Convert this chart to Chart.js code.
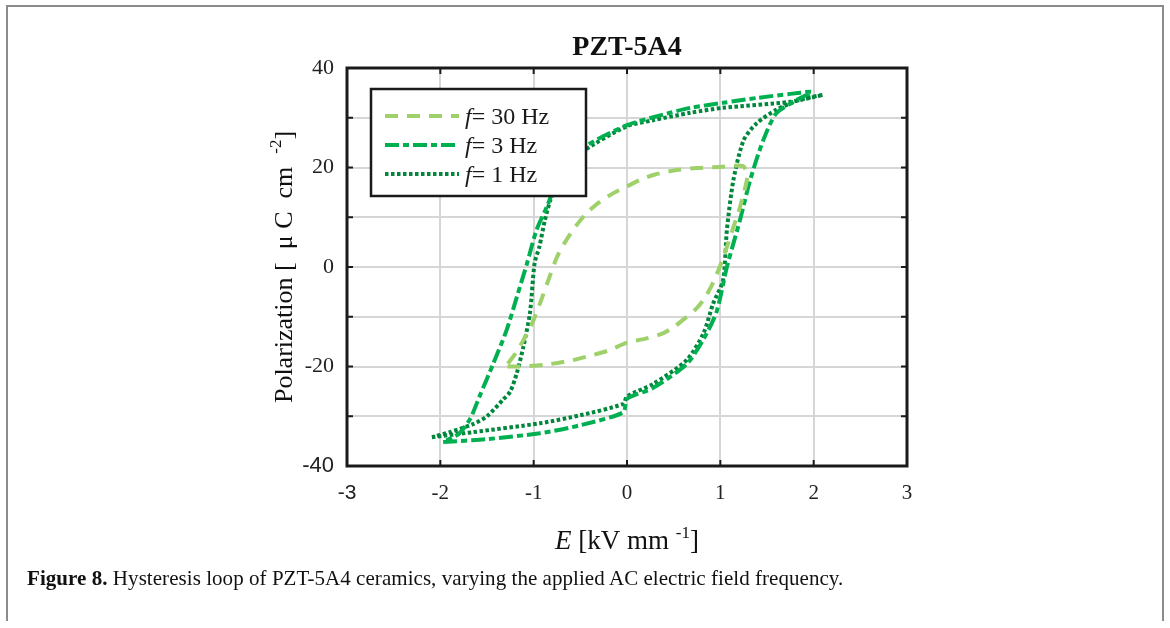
<!DOCTYPE html>
<html>
<head>
<meta charset="utf-8">
<script src="https://cdn.jsdelivr.net/npm/chart.js@4/dist/chart.umd.min.js"></script>
<style>
  html, body { margin: 0; padding: 0; background: #fff; }
  #frame {
    position: absolute; left: 6px; top: 5px; width: 1154px; height: 614px;
    border: 2px solid #8c8c8c; border-bottom: none;
  }
  #wrap { position: absolute; left: 0; top: 0; width: 1170px; height: 628px; }
  #caption {
    position: absolute; left: 27px; top: 566px;
    font-family: 'Liberation Serif', serif; font-size: 21px; color: #111;
    white-space: nowrap; letter-spacing: 0.05px;
  }
  #caption b { font-weight: bold; }
</style>
</head>
<body>
<div id="frame"></div>
<div id="wrap"><canvas id="loopChart" width="1170" height="628"></canvas></div>
<div id="caption"><b>Figure 8.</b> Hysteresis loop of PZT-5A4 ceramics, varying the applied AC electric field frequency.</div>
<script>
// axis ticks
const xTicks = [-3, -2, -1, 0, 1, 2, 3];
const yTicks = [-40, -30, -20, -10, 0, 10, 20, 30, 40];
const yLabels = [-40, -20, 0, 20, 40];

const seriesNames = ['f = 30 Hz', 'f = 3 Hz', 'f = 1 Hz'];

// f = 30 Hz loop (E in kV/mm, P in uC/cm2)
const e30 = [-1.28, -1.15, -0.86, -0.6, -0.43, -0.2, 0.0, 0.2, 0.39, 0.52, 0.64, 0.74, 0.82, 0.9, 0.96, 1.02, 1.07, 1.14, 1.21, 1.26, 1.29, 1.24,
             1.0, 0.75, 0.5, 0.3, 0.15, 0.0, -0.15, -0.3, -0.45, -0.58, -0.67, -0.75, -0.84, -0.93, -1.02, -1.11, -1.2, -1.28];
const p30 = [-20, -20, -19.6, -18.8, -18, -16.8, -15.2, -14.4, -13.3, -11.8, -10, -8.4, -6.6, -4, -1.5, 1.3, 4, 8, 12, 15.5, 18.5, 20.3,
             20.1, 19.9, 19.4, 18.6, 17.6, 16.2, 14.8, 13, 10.5, 7.4, 4.8, 2, -2.5, -7.2, -11.5, -14.7, -17.5, -19.5];

// f = 3 Hz loop
const e3 = [-1.97, -1.5, -0.93, -0.5, -0.04, 0.0, 0.28, 0.64, 0.82, 0.96, 1.07, 1.21, 1.32, 1.46, 1.6, 1.82, 1.98,
            1.75, 1.4, 1.03, 0.68, 0.46, 0.0, -0.47, -0.65, -0.78, -0.85, -0.97, -1.07, -1.18, -1.29, -1.43, -1.58, -1.68, -1.8, -1.97];
const p3 = [-35.2, -34.6, -33.4, -31.8, -29.2, -26.5, -24.3, -19.5, -14.5, -9, 0, 9.4, 17.5, 25.5, 30.9, 33.6, 35.2,
            34.8, 34, 33, 32, 31, 28.5, 24, 20.5, 16, 12.5, 7.4, 0.8, -6, -12.7, -19.3, -26, -30.5, -33.5, -35.2];

// f = 1 Hz loop
const e1 = [-2.09, -1.65, -0.93, -0.5, -0.04, 0.0, 0.28, 0.64, 0.82, 0.92, 1.03, 1.07, 1.14, 1.25, 1.39, 1.6, 1.85, 2.1,
            1.75, 1.03, 0.68, 0.28, 0.0, -0.47, -0.65, -0.76, -0.82, -0.88, -0.94, -0.99, -1.04, -1.11, -1.18, -1.25, -1.33, -1.5, -1.65, -1.9, -2.09];
const p1 = [-34.2, -33.2, -31.4, -29.8, -27.5, -26, -23.5, -18.7, -13.3, -7.5, -2.6, 7.4, 17.5, 25.5, 28.9, 31.6, 33.6, 34.6,
            33.2, 32, 31, 29.5, 28.3, 23.3, 20, 16, 13.5, 9.4, 4, 0.8, -9.3, -16, -21.3, -25, -26.7, -30, -31.6, -33.2, -34.2];

const colors = ['#9fd16b', '#00b050', '#00873c'];
const dashes = [[13, 9], [14, 4, 6, 4], [3.5, 2.5]];

const serif = "'Liberation Serif', 'Times New Roman', serif";
const sans = "'Liberation Sans', Arial, sans-serif";

function toPoints(xs, ys) {
  return xs.map((x, i) => ({ x: x, y: ys[i] }));
}

// draw a string made of pieces: [text, font, raise]
function drawRich(ctx, pieces, x, y, align) {
  let total = 0;
  pieces.forEach(p => { ctx.font = p[1]; total += ctx.measureText(p[0]).width; });
  let cx = align === 'center' ? x - total / 2 : x;
  ctx.textBaseline = 'alphabetic';
  ctx.textAlign = 'left';
  pieces.forEach(p => {
    ctx.font = p[1];
    ctx.fillText(p[0], cx, y - (p[2] || 0));
    cx += ctx.measureText(p[0]).width;
  });
}

const decorations = {
  id: 'decorations',
  afterDatasetsDraw(chart) {
    const ctx = chart.ctx;
    const a = chart.chartArea;
    const xs = chart.scales.x, ys = chart.scales.y;
    ctx.save();

    // inner ticks on all four sides
    ctx.strokeStyle = '#1a1a1a';
    ctx.lineWidth = 2;
    const tl = 6;
    ctx.beginPath();
    xTicks.forEach(v => {
      const px = xs.getPixelForValue(v);
      ctx.moveTo(px, a.bottom); ctx.lineTo(px, a.bottom - tl);
      ctx.moveTo(px, a.top); ctx.lineTo(px, a.top + tl);
    });
    yTicks.forEach(v => {
      const py = ys.getPixelForValue(v);
      ctx.moveTo(a.left, py); ctx.lineTo(a.left + tl, py);
      ctx.moveTo(a.right, py); ctx.lineTo(a.right - tl, py);
    });
    ctx.stroke();

    // box
    ctx.lineWidth = 3;
    ctx.strokeRect(a.left, a.top, a.right - a.left, a.bottom - a.top);

    // legend
    const lx = 371, ly = 89, lw = 215, lh = 107;
    ctx.fillStyle = '#fff';
    ctx.fillRect(lx, ly, lw, lh);
    ctx.lineWidth = 2.5;
    ctx.strokeStyle = '#1a1a1a';
    ctx.strokeRect(lx, ly, lw, lh);
    const rows = [116, 145, 174];
    seriesNames.forEach((name, i) => {
      ctx.beginPath();
      ctx.strokeStyle = colors[i];
      ctx.lineWidth = 4;
      ctx.setLineDash(dashes[i]);
      ctx.moveTo(385, rows[i]);
      ctx.lineTo(459, rows[i]);
      ctx.stroke();
      ctx.setLineDash([]);
      ctx.fillStyle = '#1a1a1a';
      const rest = name.slice(1).replace(' = ', '= ');
      drawRich(ctx, [['f', 'italic 24px ' + serif], [rest, '24px ' + serif]], 465, rows[i] + 8, 'left');
    });

    // title
    ctx.fillStyle = '#111';
    drawRich(ctx, [['PZT-5A4', 'bold 28px ' + serif]], (a.left + a.right) / 2, 55, 'center');

    // x axis title
    drawRich(ctx, [
      ['E', 'italic 27px ' + serif],
      [' [kV mm ', '27px ' + serif],
      ['-1', '17px ' + serif, 11],
      [']', '27px ' + serif]
    ], (a.left + a.right) / 2, 549, 'center');

    // y axis title (rotated)
    ctx.translate(292, (a.top + a.bottom) / 2);
    ctx.rotate(-Math.PI / 2);
    drawRich(ctx, [
      ['Polarization [  \u03bc C  cm  ', '26px ' + serif],
      ['-2', '17px ' + serif, 11],
      [']', '26px ' + serif]
    ], 0, 0, 'center');
    ctx.restore();
  }
};

const ctx = document.getElementById('loopChart').getContext('2d');
new Chart(ctx, {
  type: 'scatter',
  data: {
    datasets: [
      { label: seriesNames[0], data: toPoints(e30, p30), borderColor: colors[0], borderDash: dashes[0] },
      { label: seriesNames[1], data: toPoints(e3, p3), borderColor: colors[1], borderDash: dashes[1] },
      { label: seriesNames[2], data: toPoints(e1, p1), borderColor: colors[2], borderDash: dashes[2] },
    ].map(ds => Object.assign(ds, {
      showLine: true,
      pointRadius: 0,
      borderWidth: 4,
      tension: 0.25,
      fill: false,
    })),
  },
  options: {
    responsive: false,
    animation: false,
    layout: { padding: { left: 0, top: 68, right: 263, bottom: 0 } },
    plugins: {
      legend: { display: false },
      tooltip: { enabled: false },
    },
    scales: {
      x: {
        type: 'linear',
        min: -3,
        max: 3,
        afterBuildTicks: axis => { axis.ticks = xTicks.map(v => ({ value: v })); },
        afterFit: axis => { axis.height = 162; },
        grid: { color: '#d6d6d6', lineWidth: 2, drawTicks: false },
        border: { display: false },
        ticks: {
          padding: 15,
          color: '#222',
          font: c => ({ family: c.tick && c.tick.value === -3 ? sans : serif, size: 21 }),
        },
      },
      y: {
        type: 'linear',
        min: -40,
        max: 40,
        afterBuildTicks: axis => { axis.ticks = yTicks.map(v => ({ value: v })); },
        afterFit: axis => { axis.width = 347; },
        grid: { color: '#d6d6d6', lineWidth: 2, drawTicks: false },
        border: { display: false },
        ticks: {
          padding: 13,
          color: '#222',
          callback: v => (yLabels.includes(v) ? String(v) : ''),
          font: c => ({ family: c.tick && c.tick.value === -40 ? sans : serif, size: 22 }),
        },
      },
    },
  },
  plugins: [decorations],
});
</script>
</body>
</html>
